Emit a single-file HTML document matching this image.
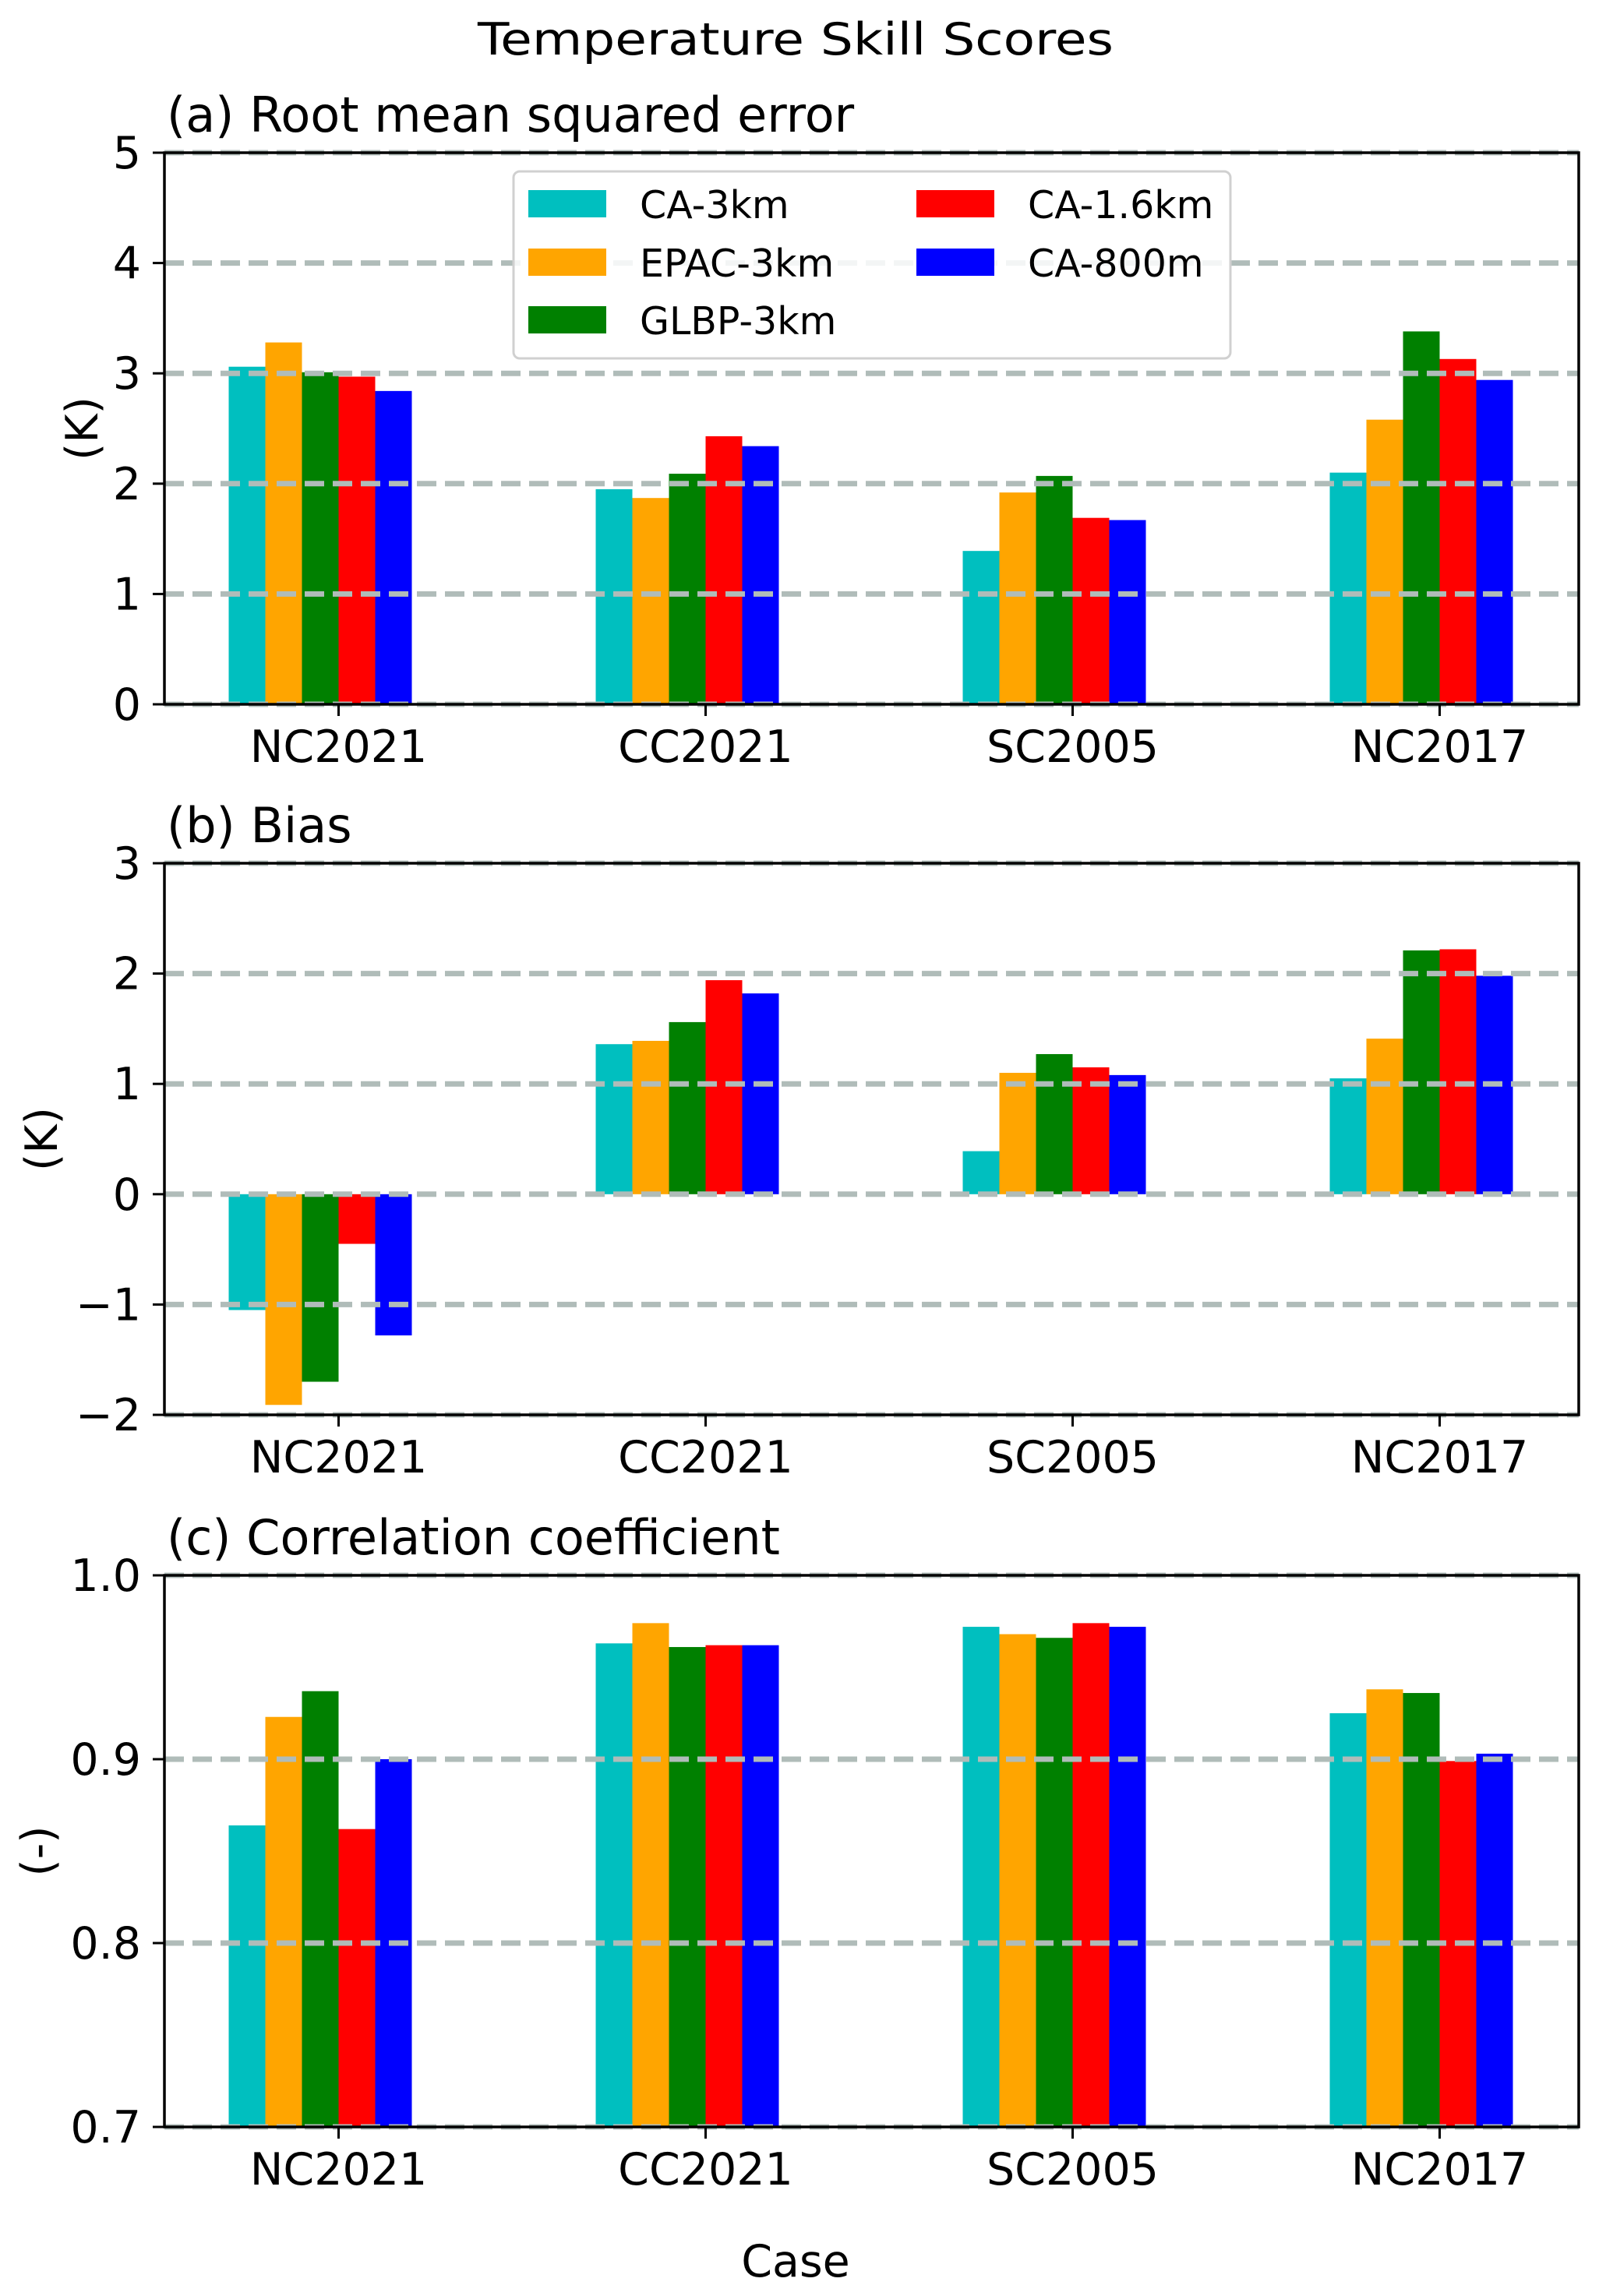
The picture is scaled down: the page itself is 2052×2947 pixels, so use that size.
<!DOCTYPE html>
<html><head><meta charset="utf-8"><style>
html,body{margin:0;padding:0;background:#fff;}
svg{display:block;font-family:"DejaVu Sans","Liberation Sans",sans-serif;}
</style></head><body>
<svg id="fig" width="2052" height="2947" viewBox="0 0 2052 2947" xmlns="http://www.w3.org/2000/svg">
<rect width="2052" height="2947" fill="#fff"/>
<text x="1021" y="70" font-size="57" text-anchor="middle" textLength="816" lengthAdjust="spacingAndGlyphs">Temperature Skill Scores</text>
<text x="1021" y="2922" font-size="57" text-anchor="middle">Case</text>
</svg>
<script>
const categories = ["NC2021","CC2021","SC2005","NC2017"];
const seriesNames = ["CA-3km","EPAC-3km","GLBP-3km","CA-1.6km","CA-800m"];
const seriesColors = ["#00bfbf","#ffa500","#008000","#ff0000","#0000ff"];
const rmseCA3 = [3.06,1.95,1.39,2.10];
const rmseEPAC = [3.28,1.87,1.92,2.58];
const rmseGLBP = [3.01,2.09,2.07,3.38];
const rmseCA16 = [2.97,2.43,1.69,3.13];
const rmseCA800 = [2.84,2.34,1.67,2.94];
const biasCA3 = [-1.05,1.36,0.39,1.05];
const biasEPAC = [-1.91,1.39,1.10,1.41];
const biasGLBP = [-1.70,1.56,1.27,2.21];
const biasCA16 = [-0.45,1.94,1.15,2.22];
const biasCA800 = [-1.28,1.82,1.08,1.98];
const corrCA3 = [0.864,0.963,0.972,0.925];
const corrEPAC = [0.923,0.974,0.968,0.938];
const corrGLBP = [0.937,0.961,0.966,0.936];
const corrCA16 = [0.862,0.962,0.974,0.899];
const corrCA800 = [0.900,0.962,0.972,0.903];
const rmseTicks = [0,1,2,3,4,5];
const rmseTickLabels = ["0","1","2","3","4","5"];
const biasTicks = [-2,-1,0,1,2,3];
const biasTickLabels = ["\u22122","\u22121","0","1","2","3"];
const corrTicks = [0.7,0.8,0.9,1.0];
const corrTickLabels = ["0.7","0.8","0.9","1.0"];

const NS="http://www.w3.org/2000/svg";
const svg=document.getElementById('fig');
function mk(tag,attrs,parent){const e=document.createElementNS(NS,tag);for(const k in attrs)e.setAttribute(k,attrs[k]);(parent||svg).appendChild(e);return e;}

const X0=211, X1=2026, TICK0=434.5, STEP=471, BW=47;
function xScale(i){return TICK0+i*STEP;}

function panel(key,top,bottom,ymin,ymax,ticks,tickLabels,series,title,ylabel,ylabelX){
  const g=mk('g',{});
  
  
  const y=v=>bottom-(v-ymin)/(ymax-ymin)*(bottom-top);
  series.forEach((vals,s)=>{
    vals.forEach((v,i)=>{
      const left=xScale(i)+(s-3)*BW;
      const y0=y(Math.max(ymin,0)), y1=y(v);
      const r=mk('rect',{x:left,y:Math.min(y0,y1),width:BW,height:Math.abs(y1-y0),fill:seriesColors[s]},g);
      
      
    });
  });
  ticks.forEach((t,k)=>{
    const l=mk('line',{x1:X0,x2:X1,y1:y(t),y2:y(t),stroke:'#b0bcb9','stroke-width':7,'stroke-dasharray':'25 11'},g);
    
    
    const tl=mk('line',{x1:X0-15,x2:X0,y1:y(t),y2:y(t),stroke:'#000','stroke-width':3},g);
    
    
    const tx=mk('text',{x:181,y:y(t)+20,'font-size':57,'text-anchor':'end'},g);
    tx.textContent=tickLabels[k];
    
    
  });
  const fr=mk('rect',{x:X0,y:top,width:X1-X0,height:bottom-top,fill:'none',stroke:'#000','stroke-width':3.5},g);
  
  
  categories.forEach((c,i)=>{
    const tl=mk('line',{x1:xScale(i),x2:xScale(i),y1:bottom,y2:bottom+15,stroke:'#000','stroke-width':3},g);
    
    
    const tx=mk('text',{x:xScale(i),y:bottom+74,'font-size':57,'text-anchor':'middle'},g);
    tx.textContent=c;
    
    
  });
  const tt=mk('text',{x:214,y:top-27,'font-size':62},g);
  tt.textContent=title;
  
  
  const cy=(top+bottom)/2;
  const yl=mk('text',{x:ylabelX,y:cy,'font-size':57,'text-anchor':'middle',transform:'rotate(-90 '+ylabelX+' '+cy+')'},g);
  yl.textContent=ylabel;
  
  
  return g;
}

panel('rmse',196,904,0,5,rmseTicks,rmseTickLabels,[rmseCA3,rmseEPAC,rmseGLBP,rmseCA16,rmseCA800],'(a) Root mean squared error','(K)',125);
panel('bias',1108,1816,-2,3,biasTicks,biasTickLabels,[biasCA3,biasEPAC,biasGLBP,biasCA16,biasCA800],'(b) Bias','(K)',73);
panel('corr',2022,2730,0.7,1.0,corrTicks,corrTickLabels,[corrCA3,corrEPAC,corrGLBP,corrCA16,corrCA800],'(c) Correlation coefficient','(-)',68);

const lg=mk('g',{});


const lb=mk('rect',{x:659,y:220,width:920,height:240,rx:8,fill:'#fff','fill-opacity':0.85,stroke:'#d0d0d0','stroke-width':3},lg);


const legPos=[[678,262],[678,337],[678,411],[1176,262],[1176,337]];
seriesNames.forEach((n,s)=>{
  const [px,py]=legPos[s];
  const p=mk('rect',{x:px,y:py-18,width:100,height:35,fill:seriesColors[s]},lg);
  
  
  const t=mk('text',{x:px+143,y:py+18,'font-size':49},lg);
  t.textContent=n;
  
  
});
</script>
</body></html>
